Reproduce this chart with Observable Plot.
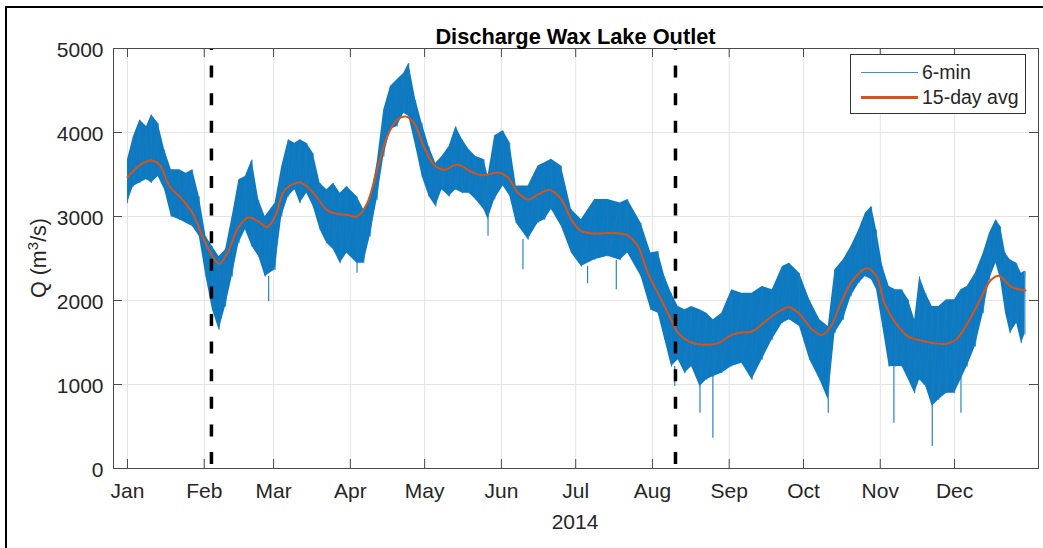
<!DOCTYPE html>
<html>
<head>
<meta charset="utf-8">
<script src="https://cdn.jsdelivr.net/npm/d3@7"></script>
<script src="https://cdn.jsdelivr.net/npm/@observablehq/plot@0.6"></script>
<style>
  html, body { margin: 0; padding: 0; background: #fff; }
  body { font-family: "Liberation Sans", Arial, Helvetica, sans-serif; color: #262626; }
  #wrap { position: relative; width: 1043px; height: 548px; overflow: hidden; background: #fff; }
  #wrap svg { position: absolute; left: 0; top: 0; }
  #frame { position: absolute; left: 5px; top: 6px; width: 1200px; height: 700px;
           border-left: 2px solid #000; border-top: 2px solid #000; pointer-events: none; }
  .lbl { position: absolute; white-space: nowrap; line-height: 1; color: #262626; }
  #title { left: 575.5px; top: 26px; transform: translateX(-50%); font-weight: bold; font-size: 21.8px; color: #000; }
  #ylab { left: 40px; top: 258px; transform: translate(-50%, -50%) rotate(-90deg); font-size: 21.5px; }
  #ylab sup { font-size: 0.7em; vertical-align: 0.55em; line-height: 0; }
  #xlab { left: 575px; top: 511px; transform: translateX(-50%); font-size: 21px; }
  #legend { position: absolute; left: 850px; top: 54px; width: 174px; height: 58px;
            border: 1px solid #333; background: #fff; }
  .lg-line { position: absolute; left: 10px; width: 57px; }
  .lg-text { position: absolute; left: 71px; font-size: 19.5px; line-height: 1; color: #262626; }
</style>
</head>
<body>
<div id="wrap">
  <div id="chart"></div>
  <div id="title" class="lbl">Discharge Wax Lake Outlet</div>
  <div id="ylab" class="lbl">Q (m<sup>3</sup>/s)</div>
  <div id="xlab" class="lbl">2014</div>
  <div id="legend">
    <div class="lg-line" style="top:17px;height:1px;background:#3f8fcc;"></div>
    <div class="lg-text" style="top:8px;">6-min</div>
    <div class="lg-line" style="top:41px;height:3px;background:#D95319;"></div>
    <div class="lg-text" style="top:33px;">15-day avg</div>
  </div>
  <div id="frame"></div>
</div>
<script>
// ---- Data (day of year 2014, 0 = Jan 1) ----
// 6-min record: upper / lower envelope of the tidal signal
const qDays = [0,2.4,5,7.7,9.7,12.4,15,17.7,21,23.7,26.3,29,31.7,34.3,37,39.6,42.3,45,47.6,50.3,53,55.6,59.6,62.3,65,67.6,69.7,72.4,75,77.8,80.5,83.2,85.9,88.6,92.7,95.4,98,100.8,103.5,106.2,108.9,111.6,113.6,116.4,119,121.8,124.5,127,129.9,132.6,135.3,138,140.7,144,145.6,148.3,151.7,154.4,157,161.8,165.8,168.5,171.2,175.2,179.3,183.3,188.7,194,199,202,207.4,211.4,214.3,217,219.7,222.4,225.1,227.8,231.2,233.9,236.6,240,244,248.1,252.2,256.3,260.4,264.5,267.3,271.4,275.5,279.6,283,285.7,289.1,292.2,295.4,298,300.5,302.5,305,307.6,310.2,312.8,315.4,317.9,319.9,322.4,325,327.6,330.8,334,336.6,339.1,342.4,345.6,348.1,350.7,352.6,354.6,356.5,359.1,361,362.5];
const qHigh = [3675,3950,4150,4070,4210,4110,3794,3556,3556,3516,3556,3238,2762,2643,2524,2603,3000,3437,3476,3675,3198,3000,3159,3595,3913,3873,3913,3873,3754,3397,3317,3397,3278,3357,3238,3079,3198,3635,4270,4548,4627,4706,4825,4389,4111,3833,3635,3714,3833,4071,3913,3794,3714,3680,3482,3960,4020,3880,3363,3363,3602,3640,3681,3602,3084,2964,3203,3203,3160,3203,2924,2566,2583,2286,2087,1929,1889,1929,1889,1849,1770,1849,2127,2087,2087,2167,2127,2405,2444,2325,2008,1770,1690,2365,2484,2643,2841,3040,3119,2841,2405,2167,2127,2127,2008,1770,2286,2087,1929,1929,2008,2008,2127,2167,2325,2563,2802,2960,2881,2563,2484,2444,2325,2350];
const qLow  = [3160,3357,3400,3440,3400,3476,3317,3000,2960,2921,2881,2762,2286,1889,1651,1929,2286,2683,2841,2643,2524,2286,2365,3000,3238,3317,3159,3278,3119,2841,2683,2603,2444,2563,2444,2444,2762,3198,3714,4032,4071,4230,4190,3833,3476,3238,3119,3317,3238,3317,3278,3278,3198,3080,2964,3203,3363,3243,2924,2725,2924,2960,3084,2884,2566,2406,2486,2526,2480,2566,2287,1888,1849,1532,1214,1294,1135,1214,976,1056,1095,1135,1214,1254,1056,1294,1532,1730,1770,1690,1294,1056,817,1611,1770,2048,2206,2286,2246,2127,1690,1214,1214,1214,1056,897,1056,976,738,817,897,897,1056,1214,1452,1849,2246,2444,2246,1849,1611,1730,1492,1600];
// isolated downward spikes of the 6-min record
const spikeDays = [57,92.7,145.6,159.7,185.8,197.4,221,231.2,236.4,283,309.5,325,336.6];
const spikeVals = [1988,2325,2765,2367,2200,2127,976,659,361,659,540,262,659];
// 15-day running average
const avgDays = [0,5.1,9.7,13,17,21,26.3,30.3,33.6,37,40.3,45,48.9,52.9,56.3,59.6,63.6,69.7,75.1,80.5,84.6,88.6,92.7,96.8,100.8,104.9,108.9,112.3,115.7,119.7,123.8,127.8,133.2,138.6,143,150.3,153.7,157.7,161.8,165.8,170.5,175.2,179.2,183.3,188.7,196.7,202.1,206.1,210.2,215.6,218.9,222.4,227.8,234.6,238.7,244,248.1,252.2,257.6,263,267.1,271.1,276.6,280.6,284,288.1,292.5,298.6,302.5,305.7,310.2,315.3,319.2,325.6,330.8,334.6,338.5,343.6,348.8,352,354.6,357.2,361,362.7];
const avgVals = [3468,3615,3667,3615,3357,3238,3040,2762,2564,2437,2564,2881,2988,2940,2873,3000,3317,3405,3278,3079,3032,3020,3000,3159,3556,3952,4151,4190,4111,3833,3615,3556,3615,3536,3490,3522,3462,3283,3203,3263,3315,3203,2964,2825,2797,2805,2773,2646,2327,2008,1809,1611,1500,1472,1492,1591,1619,1631,1750,1869,1921,1849,1651,1591,1690,1968,2226,2385,2286,1968,1730,1571,1532,1492,1484,1532,1690,1968,2246,2294,2226,2159,2127,2119];
// event markers (dashed lines)
const eventDays = [33.9, 221.3];
// axis ticks
const monthLabels = ["Jan","Feb","Mar","Apr","May","Jun","Jul","Aug","Sep","Oct","Nov","Dec"];
const yTicks = [0,1000,2000,3000,4000,5000];

// ---- Build ----
const t0 = Date.UTC(2014, 0, 1), DAY = 864e5;
const toDate = d => new Date(t0 + d * DAY);
const xLo = -5.65, xHi = 367.9;
const xDomain = [toDate(xLo), toDate(xHi)];
const months = monthLabels.map((m, i) => ({t: new Date(Date.UTC(2014, i, 1)), label: m}));

const band = qDays.map((d, i) => ({t: toDate(d), hi: qHigh[i], lo: qLow[i]}));
const zig = band.flatMap(b => [{t: b.t, v: b.hi}, {t: b.t, v: b.lo}]);
const spikes = spikeDays.map((d, i) => {
  let j = d3.minIndex(qDays, q => Math.abs(q - d));
  return {t: toDate(d), v: spikeVals[i], base: qLow[j]};
});
const avg = avgDays.map((d, i) => ({t: toDate(d), v: avgVals[i]}));
const events = eventDays.map(toDate);

const tickY = 9 / 420 * 5000;       // 9px tick length in y units
const tickX = 9 / 2.476;            // 9px tick length in days
const axisCol = "#4a4a4a", gridCol = "#e4e4e4";

const chart = Plot.plot({
  width: 1043, height: 548,
  marginLeft: 113, marginRight: 5, marginTop: 48, marginBottom: 80,
  x: {type: "utc", domain: xDomain, axis: null},
  y: {domain: [0, 5000], axis: null},
  style: {fontFamily: "'Liberation Sans', Arial, Helvetica, sans-serif", background: "transparent", overflow: "visible"},
  marks: [
    Plot.ruleX(months, {x: "t", stroke: gridCol, strokeWidth: 1}),
    Plot.ruleY(yTicks.slice(1, -1), {y: d => d, stroke: gridCol, strokeWidth: 1}),
    Plot.areaY(band, {x: "t", y1: "lo", y2: "hi", fill: "#0072BD", fillOpacity: 0.95}),
    Plot.line(zig, {x: "t", y: "v", stroke: "#1a7cc2", strokeWidth: 0.8, strokeOpacity: 0.8}),
    Plot.ruleX(spikes, {x: "t", y1: "v", y2: "base", stroke: "#2a84c6", strokeWidth: 1.2}),
    Plot.line(avg, {x: "t", y: "v", stroke: "#D95319", strokeWidth: 2, curve: "catmull-rom"}),
    Plot.ruleX(events, {x: d => d, stroke: "#000", strokeWidth: 3.5, strokeDasharray: "12,15.6", strokeDashoffset: 10}),
    Plot.frame({stroke: axisCol, strokeWidth: 1}),
    Plot.ruleX(months, {x: "t", y1: 0, y2: tickY, stroke: axisCol}),
    Plot.ruleX(months, {x: "t", y1: 5000, y2: 5000 - tickY, stroke: axisCol}),
    Plot.ruleY(yTicks, {y: d => d, x1: toDate(xLo), x2: toDate(xLo + tickX), stroke: axisCol}),
    Plot.ruleY(yTicks, {y: d => d, x1: toDate(xHi), x2: toDate(xHi - tickX), stroke: axisCol}),
    Plot.text(months, {x: "t", y: 0, text: "label", dy: 23, fontSize: 21, fill: "#262626"}),
    Plot.text(yTicks, {x: toDate(xLo), y: d => d, text: d => String(d), dx: -10, dy: 2, textAnchor: "end", fontSize: 21, fill: "#262626"})
  ]
});
document.getElementById("chart").appendChild(chart);
</script>
</body>
</html>
